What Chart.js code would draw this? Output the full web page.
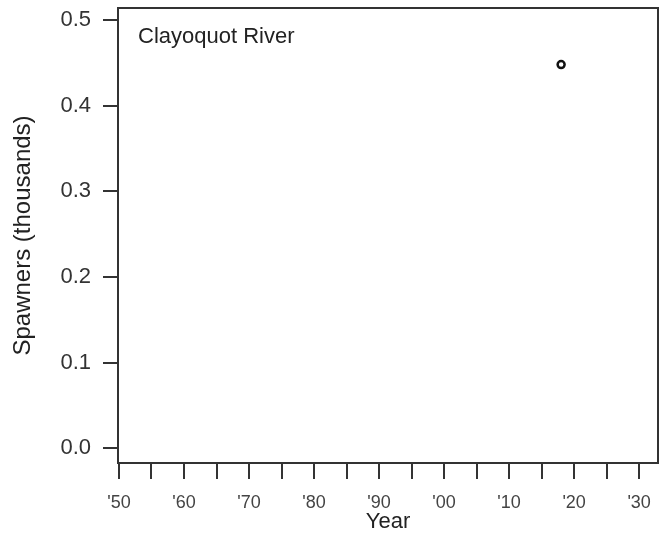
<!DOCTYPE html>
<html>
<head>
<meta charset="utf-8">
<script src="https://cdn.jsdelivr.net/npm/chart.js@4"></script>
<style>
  html, body { margin: 0; padding: 0; background: #fff; }
  #wrap { width: 666px; height: 538px; position: relative; }
</style>
</head>
<body>
<div id="wrap"><canvas id="chart"></canvas></div>
<script>
// Data
const years = [2018];
const spawners = [0.448];
const yTicks = [0, 0.1, 0.2, 0.3, 0.4, 0.5];
const xTicks = [1950, 1955, 1960, 1965, 1970, 1975, 1980, 1985, 1990, 1995,
  2000, 2005, 2010, 2015, 2020, 2025, 2030];
const riverName = "Clayoquot River";

const ink = "#333";
const fontFamily = "'Liberation Sans', Arial, sans-serif";

// frame around the plot + the river label
const framePlugin = {
  id: "frame",
  afterDraw(chart) {
    const { ctx, chartArea: a } = chart;
    ctx.save();
    ctx.strokeStyle = ink;
    ctx.lineWidth = 2;
    ctx.strokeRect(a.left, a.top, a.right - a.left, a.bottom - a.top);
    ctx.fillStyle = "#222";
    ctx.font = "22px " + fontFamily;
    ctx.textBaseline = "alphabetic";
    ctx.fillText(riverName, a.left + 20, a.top + 35);
    ctx.restore();
  },
};

new Chart(document.getElementById("chart"), {
  type: "scatter",
  data: {
    datasets: [
      {
        data: years.map((y, i) => ({ x: y, y: spawners[i] })),
        pointRadius: 3.5,
        pointBorderWidth: 2.5,
        borderColor: "#111",
        backgroundColor: "#fff",
      },
    ],
  },
  options: {
    responsive: true,
    maintainAspectRatio: false,
    animation: false,
    layout: { padding: { top: 8, right: 8, left: 0, bottom: 0 } },
    plugins: { legend: { display: false }, tooltip: { enabled: false } },
    scales: {
      x: {
        type: "linear",
        min: 1949.85,
        max: 2032.9,
        afterBuildTicks: (s) => { s.ticks = xTicks.map((v) => ({ value: v })); },
        afterFit: (s) => {
          s.height = 75;
          s.paddingLeft = 0;
          s.paddingRight = 0;
        },
        ticks: {
          autoSkip: false,
          maxRotation: 0,
          padding: 13,
          color: "#444",
          font: { family: fontFamily, size: 18 },
          callback: (v) => (v % 10 === 0 ? "'" + String(v).slice(2) : ""),
        },
        grid: { drawOnChartArea: false, tickLength: 16, color: ink, lineWidth: 2 },
        border: { display: true, color: ink, width: 2 },
        title: {
          display: true,
          text: "Year",
          color: "#222",
          font: { family: fontFamily, size: 22 },
          padding: { top: 0, bottom: 3 },
        },
      },
      y: {
        min: -0.017,
        max: 0.514,
        afterBuildTicks: (s) => { s.ticks = yTicks.map((v) => ({ value: v })); },
        afterFit: (s) => {
          s.width = 118;
          s.paddingTop = 0;
          s.paddingBottom = 0;
        },
        ticks: {
          padding: 12,
          color: "#333",
          font: { family: fontFamily, size: 22 },
          callback: (v) => v.toFixed(1),
        },
        grid: { drawOnChartArea: false, tickLength: 15, color: ink, lineWidth: 2 },
        border: { display: true, color: ink, width: 2 },
        title: {
          display: true,
          text: "Spawners (thousands)",
          color: "#222",
          font: { family: fontFamily, size: 24 },
          padding: { top: 9, bottom: 0 },
        },
      },
    },
  },
  plugins: [framePlugin],
});
</script>
</body>
</html>
